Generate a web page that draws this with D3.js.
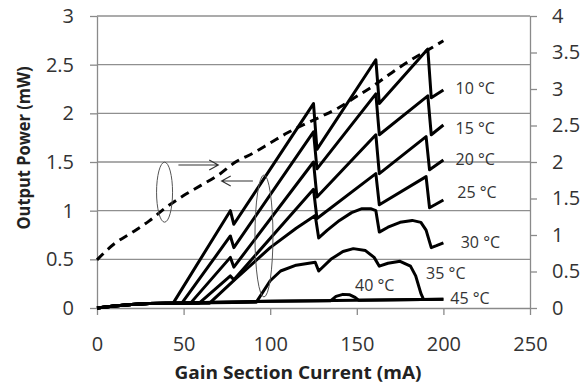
<!DOCTYPE html>
<html>
<head>
<meta charset="utf-8">
<script src="https://cdn.jsdelivr.net/npm/d3@7"></script>
<style>
  body { margin: 0; background: #fff; }
  text { font-family: "Open Sans", sans-serif; }
</style>
</head>
<body>
<svg id="chart" width="582" height="383"></svg>
<script>
// axis ticks
var currentTicks = [0, 50, 100, 150, 200, 250];
var powerTicks = [0, 0.5, 1, 1.5, 2, 2.5, 3];
var rightTicks = [0, 0.5, 1, 1.5, 2, 2.5, 3, 3.5, 4];

// dashed curve, read against the right axis
var dashedCurrent = [0, 10, 20, 30, 40, 50, 60, 70, 80, 90, 100, 110, 120, 130, 140, 150, 160, 170, 180, 190, 200];
var dashedValue = [0.66, 0.88, 1.03, 1.19, 1.38, 1.54, 1.68, 1.82, 2.0, 2.12, 2.26, 2.4, 2.52, 2.63, 2.75, 2.9, 3.05, 3.22, 3.38, 3.52, 3.66];

// output power curves [current mA, power mW]
var floor = [[0, 0], [10, 0.02], [20, 0.035], [30, 0.045], [40, 0.05], [100, 0.07], [150, 0.08], [200, 0.09]];
var curve10 = [[44, 0.05], [77, 1.0], [79, 0.86], [125, 2.1], [127, 1.63], [161, 2.55], [163, 2.1], [191, 2.66], [193, 2.16], [200, 2.24]];
var curve15 = [[49, 0.05], [77, 0.74], [79, 0.62], [125, 1.81], [127, 1.43], [161, 2.2], [163, 1.78], [191, 2.18], [193, 1.78], [200, 1.88]];
var curve20 = [[54, 0.05], [77, 0.52], [79, 0.42], [125, 1.5], [127, 1.14], [161, 1.78], [163, 1.38], [190, 1.76], [192, 1.42], [200, 1.52]];
var curve25 = [[59, 0.05], [77, 0.33], [79, 0.29], [125, 1.22], [127, 0.92], [161, 1.38], [163, 1.06], [190, 1.35], [192, 1.03], [200, 1.11]];
var curve30 = [[65, 0.05], [80, 0.3], [100, 0.62], [115, 0.82], [126, 0.95], [128, 0.72], [133, 0.8], [140, 0.9], [147, 0.98],
  [153, 1.02], [158, 1.02], [161, 1.0], [163, 0.78], [168, 0.83], [175, 0.88], [182, 0.9], [187, 0.88], [190, 0.8],
  [193, 0.62], [196, 0.64], [200, 0.67]];
var curve35 = [[92, 0.06], [100, 0.28], [106, 0.38], [115, 0.44], [126, 0.47], [128, 0.38], [135, 0.5], [142, 0.58],
  [148, 0.61], [155, 0.59], [160, 0.52], [163, 0.43], [168, 0.46], [175, 0.48], [181, 0.43], [184, 0.33], [187, 0.15],
  [188.5, 0.09]];
var curve40 = [[135, 0.075], [138, 0.12], [142, 0.14], [146, 0.135], [149, 0.11], [151, 0.08]];
var curve45 = [[200, 0.09]];

var labelText = ["10 \u00b0C", "15 \u00b0C", "20 \u00b0C", "25 \u00b0C", "30 \u00b0C", "35 \u00b0C", "40 \u00b0C", "45 \u00b0C"];
var labelCurrent = [207, 207, 207, 208, 210, 190, 149, 204];
var labelPower = [2.26, 1.85, 1.53, 1.19, 0.68, 0.36, 0.23, 0.1];

var svg = d3.select("#chart");
var plotLeft = 97, plotRight = 530, plotTop = 16, plotBottom = 308;

var x = d3.scaleLinear().domain([0, 250]).range([plotLeft, plotRight]);
var y = d3.scaleLinear().domain([0, 3]).range([plotBottom, plotTop]);
var y2 = d3.scaleLinear().domain([0, 4]).range([plotBottom, plotTop]);

// gridlines
svg.append("g").selectAll("line")
    .data(powerTicks.slice(1))
    .enter().append("line")
    .attr("x1", plotLeft).attr("x2", plotRight)
    .attr("y1", function(d) { return y(d); })
    .attr("y2", function(d) { return y(d); })
    .attr("stroke", "#8f8f8f")
    .attr("stroke-width", 1.3);

var styleAxis = function(g) {
  g.selectAll("path").attr("stroke", "#8a8a8a").attr("stroke-width", 1.3);
  g.selectAll("line").attr("stroke", "#8a8a8a").attr("stroke-width", 1.3);
  g.selectAll("text").attr("fill", "#333").style("font-size", "20px")
    .style("font-family", "'Open Sans', sans-serif");
};

svg.append("g").attr("transform", "translate(0," + plotBottom + ")")
    .call(d3.axisBottom(x).tickValues(currentTicks).tickSize(7).tickPadding(22).tickSizeOuter(0))
    .call(styleAxis);

svg.append("g").attr("transform", "translate(" + plotLeft + ",0)")
    .call(d3.axisLeft(y).tickValues(powerTicks).tickSize(7).tickPadding(16).tickSizeOuter(0)
      .tickFormat(d3.format("")))
    .call(styleAxis);

svg.append("g").attr("transform", "translate(" + plotRight + ",0)")
    .call(d3.axisRight(y2).tickValues(rightTicks).tickSize(7).tickPadding(15).tickSizeOuter(0)
      .tickFormat(d3.format("")))
    .call(styleAxis);

// axis titles
svg.append("text")
    .attr("x", 298).attr("y", 379)
    .attr("text-anchor", "middle")
    .style("font-size", "18px").style("font-weight", "bold").attr("fill", "#222")
    .attr("textLength", 247).attr("lengthAdjust", "spacingAndGlyphs")
    .text("Gain Section Current (mA)");

svg.append("text")
    .attr("transform", "translate(30,148) rotate(-90)")
    .attr("text-anchor", "middle")
    .style("font-size", "18px").style("font-weight", "bold").attr("fill", "#222")
    .attr("textLength", 163).attr("lengthAdjust", "spacingAndGlyphs")
    .text("Output Power (mW)");

// dashed curve on right axis
var dashed = dashedCurrent.map(function(c, i) { return [c, dashedValue[i]]; });
var line2 = d3.line()
    .x(function(d) { return x(d[0]); })
    .y(function(d) { return y2(d[1]); })
    .curve(d3.curveMonotoneX);
svg.append("path")
    .datum(dashed)
    .attr("d", line2)
    .attr("fill", "none")
    .attr("stroke", "#000")
    .attr("stroke-width", 3)
    .attr("stroke-dasharray", "9,6");

// power curves, straight segments between the mode hops
var line = d3.line()
    .x(function(d) { return x(d[0]); })
    .y(function(d) { return y(d[1]); });

var curves = [curve10, curve15, curve20, curve25, curve30, curve35, curve40, curve45];
curves.forEach(function(c) {
  // all curves follow the spontaneous emission floor up to threshold
  var start = floor.filter(function(p) { return p[0] < c[0][0]; });
  var tail = [];
  if (c === curve40) tail = floor.filter(function(p) { return p[0] > 151; });
  svg.append("path")
      .datum(start.concat(c, tail))
      .attr("d", line)
      .attr("fill", "none")
      .attr("stroke", "#000")
      .attr("stroke-width", 3)
      .attr("stroke-linejoin", "round");
});

// curve labels
svg.append("g").selectAll("text")
    .data(labelText)
    .enter().append("text")
    .attr("x", function(d, i) { return x(labelCurrent[i]); })
    .attr("y", function(d, i) { return y(labelPower[i]); })
    .attr("dy", "0.36em")
    .style("font-size", "16px")
    .attr("fill", "#333")
    .text(function(d) { return d; });

// ellipses and arrows
svg.append("ellipse")
    .attr("cx", x(39)).attr("cy", y(1.19)).attr("rx", 8).attr("ry", 30)
    .attr("fill", "none").attr("stroke", "#555").attr("stroke-width", 1);
svg.append("ellipse")
    .attr("cx", x(96.4)).attr("cy", y(0.74)).attr("rx", 9).attr("ry", 61)
    .attr("fill", "none").attr("stroke", "#555").attr("stroke-width", 1);

var arrow = function(x1, x2, yy) {
  var dir = x2 > x1 ? -1 : 1;
  svg.append("path")
      .attr("d", "M" + x1 + "," + yy + "H" + x2 +
        "M" + (x2 + dir * 9) + "," + (yy - 5) + "L" + x2 + "," + yy + "L" + (x2 + dir * 9) + "," + (yy + 5))
      .attr("fill", "none").attr("stroke", "#333").attr("stroke-width", 1.2);
};
arrow(x(47), x(70), 165);
arrow(x(90), x(72), 181);
</script>
</body>
</html>
